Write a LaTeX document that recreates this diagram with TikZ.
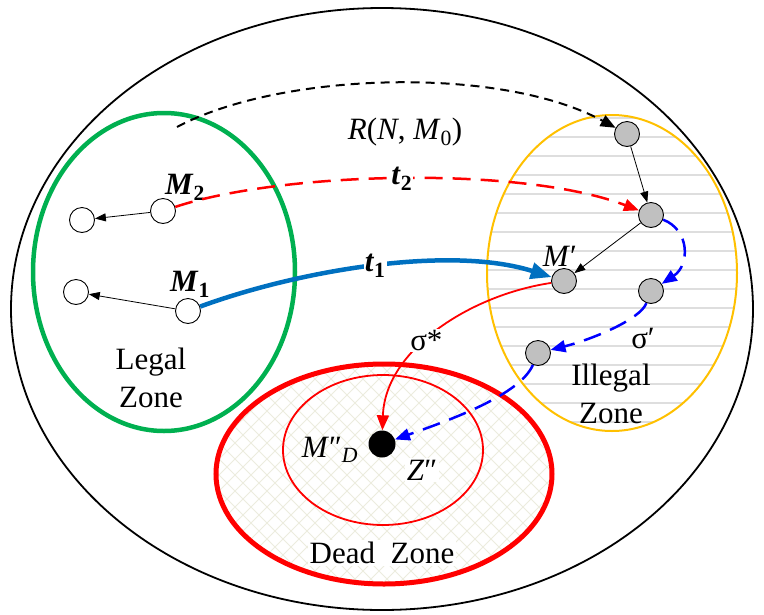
\documentclass[tikz,border=0pt]{standalone}
\usepackage{fontspec}
\setmainfont{Liberation Serif}
\usetikzlibrary{arrows.meta,positioning}
\definecolor{zgreen}{RGB}{0,176,80}
\definecolor{zgold}{RGB}{255,192,0}
\definecolor{tblue}{RGB}{0,112,192}
\definecolor{sblue}{RGB}{0,0,255}
\definecolor{stripegray}{RGB}{222,222,222}
\definecolor{hatchbeige}{RGB}{236,236,222}
\definecolor{ngray}{RGB}{192,192,192}
\newcommand{\Mk}[1]{\textbf{\textit{M}\textsubscript{\upshape#1}}}
\newcommand{\tk}[1]{\textbf{\textit{t}\textsubscript{\upshape#1}}}

\begin{document}
\begin{tikzpicture}[x=1pt, y=-1pt, font=\fontsize{31}{38}\selectfont,
    wnode/.style={circle, draw, fill=white, line width=0.9pt, minimum size=25pt, inner sep=0pt},
    gnode/.style={wnode, fill=ngray},
    bigtip/.style={-{Triangle[length=21pt, width=16pt]}},
    midtip/.style={-{Triangle[length=15pt, width=12pt]}},
    thintip/.style={-{Triangle[length=11pt, width=8pt]}},
    onpath/.style={fill=white, text=black, inner sep=1pt},
    sdash/.style={sblue, line width=2.5pt, dash pattern=on 18pt off 10pt, midtip}]
  \useasboundingbox (0,0) rectangle (764,614);

  % zones
  \draw[line width=1.8pt] (382,309) ellipse (371pt and 301pt);
  \draw[zgreen, line width=4.5pt] (164,272) ellipse (131pt and 159pt);
  \begin{scope}
    \clip (612,273) ellipse (125pt and 158pt);
    \foreach \y in {118,137,...,440}
      \draw[stripegray, line width=2.5pt] (480,\y) -- (745,\y);
  \end{scope}
  \draw[zgold, line width=2pt] (612,273) ellipse (125pt and 158pt);
  \begin{scope}
    \clip (384,474) ellipse (168pt and 110pt);
    \fill[white] (200,350) rectangle (570,600);
    \foreach \d in {-24,-8,...,580} {
      \draw[hatchbeige, line width=0.9pt] (\d,360) -- ++(230,230);
      \draw[hatchbeige, line width=0.9pt] (\d+230,360) -- ++(-230,230);
    }
  \end{scope}
  \draw[red, line width=5pt] (384,474) ellipse (168pt and 110pt);
  \draw[red, line width=1.8pt] (383,450) ellipse (100pt and 75pt);

  % markings
  \node[wnode] (m2) at (163,211) {};
  \node[wnode] (l2) at (82,220) {};
  \node[wnode] (m1) at (188,311) {};
  \node[wnode] (l1) at (76,292) {};
  \node[gnode] (i1) at (627,134) {};
  \node[gnode] (i2) at (651,215) {};
  \node[gnode] (mp) at (564,281) {};
  \node[gnode] (i4) at (651,291) {};
  \node[gnode] (i5) at (538,353) {};
  \node[circle, fill=black, minimum size=27pt, inner sep=0pt] (md) at (382,444) {};
  \coordinate (rstart) at (177,127);

  % labels
  \node (m2lbl) at (185,187) {\Mk{2}};
  \node (m1lbl) at (190,284) {\Mk{1}};
  \node[align=center] (legal) at (151,378) {Legal\\Zone};
  \node[align=center] (illegal) at (611,394) {Illegal\\Zone};
  \node[fill=white, inner sep=2pt] (dead) at (382,553) {Dead\enspace Zone};
  \node (reach) at (405,132) {\textit{R}(\textit{N}, \textit{M}\textsubscript{0})};
  \node (mplbl) at (560,256) {\textit{M}′};
  \node (mdlbl) at (330,450) {\textit{M}″\textsubscript{\textit{D}}};
  \node[fill=white, inner sep=2pt] (zlbl) at (422,470) {\textit{Z}″};
  \node (sigp) at (643,338) {σ′};

  % connectors
  \draw[line width=0.8pt, thintip] (m2) -- (l2);
  \draw[line width=0.8pt, thintip] (m1) -- (l1);
  \draw[line width=0.8pt, thintip] (i1) -- (i2);
  \draw[line width=0.8pt, thintip] (i2) -- (mp);
  \draw[line width=2pt, dash pattern=on 9pt off 6pt, midtip] (rstart) .. controls (280,72) and (500,65) .. (i1);
  \draw[red, line width=2.5pt, dash pattern=on 18pt off 10pt, midtip] (m2) .. controls (280,172) and (520,165) .. (i2)
    node[pos=0.5, onpath] {\tk{2}};
  \draw[tblue, line width=4.5pt, bigtip] (m1) .. controls (300,270) and (450,245) .. (mp)
    node[pos=0.5, onpath] {\tk{1}};
  \draw[red, line width=1.8pt, midtip] (mp) .. controls (470,295) and (385,350) .. (md)
    node[pos=0.56, onpath] {σ*};
  \draw[sdash] (i2) .. controls (690,230) and (690,265) .. (i4);
  \draw[sdash] (i4) .. controls (640,320) and (590,340) .. (i5);
  \draw[sdash] (i5) .. controls (520,395) and (450,420) .. (md);
\end{tikzpicture}
\end{document}
